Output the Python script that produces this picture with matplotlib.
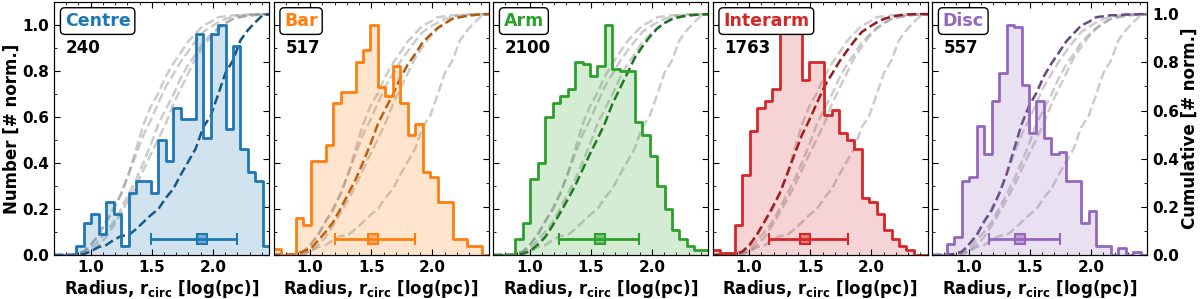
import numpy as np
import matplotlib.pyplot as plt
import matplotlib.colors as mcolors
from matplotlib.ticker import MultipleLocator

plt.rcParams.update({'font.size': 11, 'font.weight': 'bold', 'axes.labelsize': 12,
                     'axes.labelweight': 'bold', 'mathtext.default': 'bf'})

# shared histogram bins in log(pc)
bin_start = 0.70
bin_width = 0.061
n_bins = 29
edges = bin_start + bin_width*np.arange(n_bins+1)

regions = ['Centre', 'Bar', 'Arm', 'Interarm', 'Disc']
n_clouds = [240, 517, 2100, 1763, 557]
colours = ['#1f77b4', '#ff7f0e', '#2ca02c', '#d62728', '#9467bd']

# histogram heights, normalised to the peak
centre = [0, 0, 0, 0.04, 0.14, 0.18, 0.09, 0.23, 0.18, 0.04, 0.27, 0.32, 0.32, 0.27, 0.50,
          0.41, 0.64, 0.59, 0.59, 0.96, 0.51, 0.96, 1.0, 0.55, 0.91, 0.46, 0.36, 0.32, 0.04]
bar = [0.025, 0, 0, 0.16, 0.13, 0.41, 0.41, 0.48, 0.66, 0.71, 0.71, 0.84, 0.89, 1.0, 0.73,
       0.69, 0.82, 0.66, 0.52, 0.57, 0.36, 0.34, 0.23, 0.23, 0.07, 0.07, 0.04, 0.04, 0]
arm = [0, 0, 0, 0.07, 0.14, 0.33, 0.40, 0.60, 0.66, 0.69, 0.72, 0.84, 0.83, 0.78, 0.82,
       1.0, 0.81, 0.80, 0.80, 0.58, 0.52, 0.43, 0.30, 0.20, 0.11, 0.07, 0.04, 0.02, 0.02]
interarm = [0.02, 0.01, 0.01, 0.13, 0.35, 0.54, 0.64, 0.67, 0.72, 0.97, 1.0, 0.98, 0.76, 0.84, 0.84,
            0.61, 0.63, 0.53, 0.50, 0.46, 0.25, 0.23, 0.18, 0.11, 0.07, 0.04, 0.02, 0, 0]
disc = [0, 0, 0.05, 0.08, 0.32, 0.34, 0.56, 0.44, 0.67, 0.79, 1.0, 0.99, 0.74, 0.53, 0.67,
        0.51, 0.44, 0.45, 0.32, 0.32, 0.14, 0.19, 0.04, 0.04, 0, 0.03, 0, 0.015, 0]
hists = [centre, bar, arm, interarm, disc]

# median radius and spread (errorbar)
med = [1.91, 1.515, 1.575, 1.46, 1.42]
lo = [1.49, 1.205, 1.24, 1.16, 1.17]
hi = [2.20, 1.86, 1.89, 1.81, 1.75]

cums = []
for h in hists:
    h = np.array(h)
    cums.append(np.concatenate([[0], np.cumsum(h)])/h.sum())

fig, axes = plt.subplots(1, 5, figsize=(12, 2.99), dpi=100)
plt.subplots_adjust(left=0.045, right=0.956, top=0.993, bottom=0.147, wspace=0.02)

for i, ax in enumerate(axes):
    c = colours[i]
    dark = np.array(mcolors.to_rgb(c))*0.7
    h = np.array(hists[i])
    hh = np.append(h, h[-1])
    ax.fill_between(edges, hh, step='post', color=c, alpha=0.2, lw=0)
    ax.step(edges, hh, where='post', color=c, lw=2)
    ax.errorbar(med[i], 0.07, xerr=[[med[i]-lo[i]], [hi[i]-med[i]]], color=c, lw=2,
                capsize=4, capthick=2, marker='s', ms=7.5,
                mfc=mcolors.to_rgba(c, 0.5), mec=c, mew=1.5)
    ax.set_xlim(0.7, 2.46)
    ax.set_ylim(0, 1.1)
    ax.xaxis.set_major_locator(MultipleLocator(0.5))
    ax.xaxis.set_minor_locator(MultipleLocator(0.1))
    ax.yaxis.set_major_locator(MultipleLocator(0.2))
    ax.yaxis.set_minor_locator(MultipleLocator(0.1))
    ax.tick_params(which='both', direction='in', top=True, right=False)
    ax.tick_params(which='major', length=4)
    ax.tick_params(which='minor', length=2)
    ax.set_xlabel(r'Radius, r$_\mathbf{circ}$ [log(pc)]', labelpad=2)
    if i == 0:
        ax.set_ylabel('Number [# norm.]', labelpad=1)
    else:
        ax.set_yticklabels([])

    ax2 = ax.twinx()
    for j in range(5):
        if j != i:
            ax2.plot(edges, cums[j], ls='--', color='grey', alpha=0.4, lw=1.8)
    ax2.plot(edges, cums[i], ls='--', color=dark, lw=1.8)
    ax2.set_ylim(0, 1.05)
    ax2.yaxis.set_major_locator(MultipleLocator(0.2))
    ax2.yaxis.set_minor_locator(MultipleLocator(0.1))
    ax2.tick_params(which='both', direction='in')
    ax2.tick_params(which='major', length=4)
    ax2.tick_params(which='minor', length=2)
    if i == 4:
        ax2.set_ylabel('Cumulative [# norm.]', labelpad=1)
    else:
        ax2.set_yticklabels([])

    ax.text(0.05, 0.925, regions[i], transform=ax.transAxes, color=c, fontsize=12.5,
            va='center', ha='left',
            bbox=dict(boxstyle='round,pad=0.25', fc='white', ec='black', lw=1), zorder=10)
    ax.text(0.055, 0.82, str(n_clouds[i]), transform=ax.transAxes, fontsize=12,
            va='center', ha='left', zorder=10)
    ax2.set_zorder(ax.get_zorder()-1)
    ax.patch.set_visible(False)

plt.savefig('out.png', dpi=100)
